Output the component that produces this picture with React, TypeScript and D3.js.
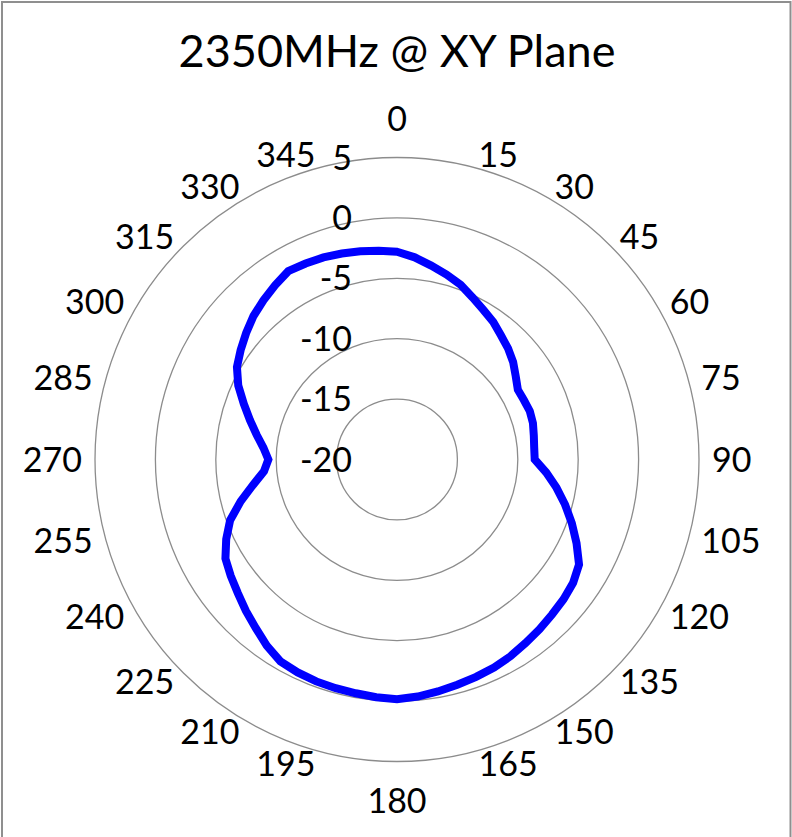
import * as d3 from "d3";
import { useRef, useEffect, ReactElement } from "react";

// gain pattern (dBi), 5 degree steps
const angles = [
    0, 5, 10, 15, 20, 25, 30, 35, 40, 45, 50, 55,
    60, 65, 70, 75, 80, 85, 90, 95, 100, 105, 110, 115,
    120, 125, 130, 135, 140, 145, 150, 155, 160, 165, 170, 175,
    180, 185, 190, 195, 200, 205, 210, 215, 220, 225, 230, 235,
    240, 245, 250, 255, 260, 265, 270, 275, 280, 285, 290, 295,
    300, 305, 310, 315, 320, 325, 330, 335, 340, 345, 350, 355,
];
const gains = [
    -2.8, -3.2, -3.7, -4.15, -4.6, -5.2, -5.7, -6.1, -6.6, -7.0, -7.45, -8.0,
    -8.45, -8.4, -8.3, -8.35, -8.5, -8.6, -8.6, -7.6, -6.6, -5.6, -4.6, -3.6,
    -2.6, -2.2, -2.0, -1.85, -1.65, -1.45, -1.2, -1.0, -0.85, -0.7, -0.5, -0.3,
    -0.15, -0.25, -0.35, -0.4, -0.45, -0.55, -0.7, -1.2, -1.8, -2.3, -2.8, -3.2,
    -3.6, -4.4, -5.3, -6.6, -7.9, -8.95, -9.35, -8.9, -8.2, -7.4, -6.5, -5.5,
    -4.7, -4.2, -3.7, -3.2, -2.8, -2.4, -2.0, -2.1, -2.2, -2.35, -2.5, -2.65,
];
// category labels shown every 15 degrees
const angleLabels = [0, 15, 30, 45, 60, 75, 90, 105, 120, 135, 150, 165, 180, 195, 210, 225, 240, 255, 270, 285, 300, 315, 330, 345];
const ringTicks = [-20, -15, -10, -5, 0, 5];
const title = "2350MHz @ XY Plane";

const width = 792;
const height = 837;
const cx = 397;
const cy = 459.5;
const outerR = 302;
const font = "Lato, 'Open Sans', sans-serif";
const labelSize = 34;
const capH = labelSize * 0.7165;

const PolarChart = (): ReactElement => {
    const svgRef = useRef(null);

    useEffect(() => {
        if (!svgRef.current) return;
        const svg = d3.select(svgRef.current);

        const r = d3.scaleLinear().domain([ringTicks[0], ringTicks[ringTicks.length - 1]]).range([0, outerR]);

        // outer frame
        svg.append("rect")
            .attr("x", 2).attr("y", 2)
            .attr("width", 788.5).attr("height", 900)
            .attr("fill", "none")
            .attr("stroke", "#8f8f8f")
            .attr("stroke-width", 2);

        svg.append("text")
            .attr("x", cx).attr("y", 66.5)
            .attr("text-anchor", "middle")
            .attr("font-family", font)
            .attr("font-size", 45)
            .attr("fill", "#000")
            .text(title);

        const g = svg.append("g").attr("transform", `translate(${cx},${cy})`);

        // rings
        g.selectAll("circle")
            .data(ringTicks.filter(t => r(t) > 0))
            .enter()
            .append("circle")
                .attr("r", d => r(d))
                .attr("fill", "none")
                .attr("stroke", "#8c8c8c")
                .attr("stroke-width", 1.3);

        // ring value labels along the 0 spoke
        g.selectAll("text.ring")
            .data(ringTicks)
            .enter()
            .append("text")
                .attr("class", "ring")
                .attr("x", -45)
                .attr("y", d => -r(d) + capH / 2)
                .attr("text-anchor", "end")
                .attr("font-family", font)
                .attr("font-size", labelSize)
                .text(d => String(d));

        // angle labels
        const gap = outerR + 13;
        g.selectAll("text.ang")
            .data(angleLabels)
            .enter()
            .append("text")
                .attr("class", "ang")
                .attr("font-family", font)
                .attr("font-size", labelSize)
                .each(function (a) {
                    const t = a * Math.PI / 180;
                    const s = Math.sin(t);
                    const c = Math.cos(t);
                    const x = gap * s;
                    let y = -gap * c + capH / 2;
                    let anchor = "middle";
                    if (s > 0.01) anchor = "start";
                    else if (s < -0.01) anchor = "end";
                    else if (c > 0) y = -gap * c - 14;
                    else y = -gap * c + 14 + capH;
                    d3.select(this)
                        .attr("x", x)
                        .attr("y", y)
                        .attr("text-anchor", anchor)
                        .text(String(a));
                });

        const line = d3.lineRadial<number>()
            .angle((d, i) => angles[i] * Math.PI / 180)
            .radius(d => r(d))
            .curve(d3.curveLinearClosed);

        g.append("path")
            .attr("d", line(gains))
            .attr("fill", "none")
            .attr("stroke", "#0000ff")
            .attr("stroke-width", 8)
            .attr("stroke-linejoin", "miter");

        return () => {
            svg.selectAll("*").remove();
        };
    }, []);

    return (
        <svg
            width={width}
            height={height}
            ref={svgRef}
            style={{ position: "absolute", left: 0, top: 0, background: "#fff" }}
        ></svg>
    );
};

export default function App() {
    return <PolarChart />;
}
